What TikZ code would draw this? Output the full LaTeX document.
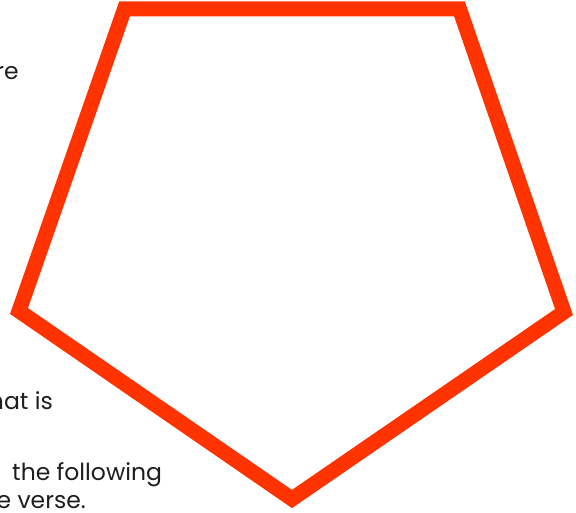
\documentclass[tikz,border=0pt]{standalone}
\usepackage{fontspec}
\setmainfont{Poppins}
\definecolor{penred}{RGB}{255,51,0}
\definecolor{textgray}{RGB}{30,30,30}
\tikzset{
  fragment/.style={inner sep=0pt, text=textgray, font=\fontsize{23.5}{28}\selectfont},
  outline/.style={draw=penred, line width=15pt, line join=miter}
}
\begin{document}
\begin{tikzpicture}[x=1pt, y=-1pt]

     \useasboundingbox (0,0) rectangle (576,513);
     \clip (0,0) rectangle (576,513);

     % text
     \node[fragment, anchor=base east] (lineA) at (19,80) {re};
     \node[fragment, anchor=base east] (lineB) at (53,409) {hat is};
     \node[fragment, anchor=base west] (lineC) at (12,480) {the following};
     \node[fragment, anchor=base east] (lineD) at (86,508) {e verse.};

     % pentagon
     \coordinate (topl) at (124.5,9);
     \coordinate (topr) at (459.5,9);
     \coordinate (right) at (564,312);
     \coordinate (bottom) at (292,499);
     \coordinate (left) at (19,311);
     \draw[outline, fill=white] (topl) -- (topr) -- (right) -- (bottom) -- (left) -- cycle;

\end{tikzpicture}
\end{document}
